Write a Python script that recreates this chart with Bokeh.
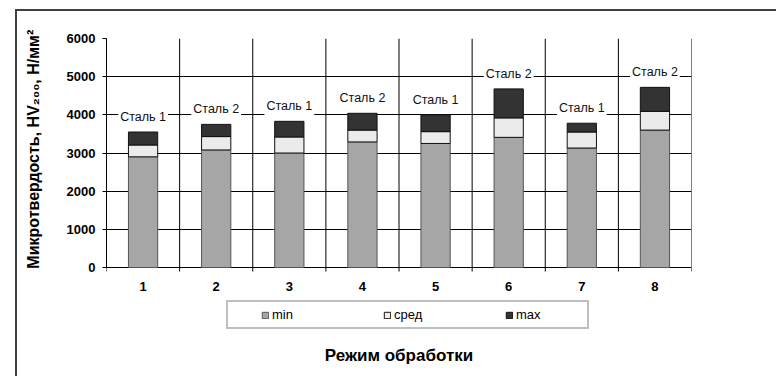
from bokeh.plotting import figure
from bokeh.models import (FixedTicker, Legend, LegendItem, ColumnDataSource, Range1d,
                          InlineStyleSheet, LinearAxis)
from bokeh.core.properties import value
from bokeh.embed import file_html
from bokeh.resources import INLINE

# ---- data ----
categories = ["1", "2", "3", "4", "5", "6", "7", "8"]
steel = ["Сталь 1", "Сталь 2", "Сталь 1", "Сталь 2", "Сталь 1", "Сталь 2", "Сталь 1", "Сталь 2"]
min_vals = [2900, 3080, 3000, 3290, 3250, 3410, 3130, 3600]
sred_vals = [3210, 3430, 3420, 3600, 3560, 3920, 3550, 4090]
max_vals = [3550, 3750, 3830, 4040, 4000, 4680, 3780, 4720]
y_ticks = [0, 1000, 2000, 3000, 4000, 5000, 6000]
y_title = "Микротвердость, HV₂₀₀, Н/мм²"
x_title = "Режим обработки"

FONT = "Liberation Sans"

# ---- layout (pixels) ----
W, H = 776, 376
FRAME_L, FRAME_R, FRAME_T, FRAME_B = 106, 691, 38, 335
ZERO_PX = 267            # pixel row of value 0
Y_MAX = y_ticks[-1]
px_per_unit = (ZERO_PX - FRAME_T) / Y_MAX
y_low = -(FRAME_B - ZERO_PX) / px_per_unit   # frame extends below 0 to hold the legend
tick_len = 4 / px_per_unit

xs = list(range(1, len(categories) + 1))
bounds = [i + 0.5 for i in range(0, len(categories) + 1)]
src = ColumnDataSource(dict(
    x=xs,
    seg_min=min_vals,
    seg_sred=[s - m for s, m in zip(sred_vals, min_vals)],
    seg_max=[mx - s for mx, s in zip(max_vals, sred_vals)],
    top=max_vals,
    steel=steel,
    zero=[0] * len(xs),
    cat=categories,
))

p = figure(width=W, height=H, output_backend="svg", toolbar_location=None,
           x_axis_type=None,
           x_range=Range1d(0.5, len(categories) + 0.5), y_range=Range1d(y_low, Y_MAX),
           min_border_left=FRAME_L, min_border_right=W - FRAME_R, min_border_top=FRAME_T,
           min_border_bottom=H - FRAME_B)
p.outline_line_color = None
p.background_fill_color = "white"
p.border_fill_color = "white"

# horizontal grid (line at 0 is the category axis line)
p.ygrid.ticker = FixedTicker(ticks=y_ticks)
p.ygrid.grid_line_color = "black"
p.ygrid.grid_line_width = 1

# vertical grid lines at the category boundaries, with tick marks below 0
p.segment(x0=bounds, y0=[-tick_len] * len(bounds), x1=bounds, y1=[Y_MAX] * len(bounds),
          line_color="black", line_width=1)

renderers = p.vbar_stack(["seg_min", "seg_sred", "seg_max"], x="x", width=0.4, source=src,
                         fill_color=["#a6a6a6", "#ebebeb", "#333333"],
                         line_color=["#555555", "#111111", "#111111"], line_width=1)

# steel labels above bars
p.text(x="x", y="top", text="steel", source=src, y_offset=-6,
       text_align="center", text_baseline="bottom",
       text_font=value(FONT), text_font_size="12.5px", text_color="#111111",
       background_fill_color="white", padding=2)

# category labels under the axis
p.text(x="x", y="zero", text="cat", source=src, y_offset=14,
       text_align="center", text_baseline="top",
       text_font=value(FONT), text_font_size="13px", text_font_style="bold",
       text_color="black")

# y axis (label padded with no-break spaces so it sits centred on the 0..6000 span)
yax = p.yaxis[0]
yax.ticker = FixedTicker(ticks=y_ticks)
yax.bounds = (0, Y_MAX)
yax.axis_label = "\u00a0" * 17 + y_title
yax.axis_line_color = "black"
yax.major_label_text_font = FONT
yax.major_label_text_font_style = "bold"
yax.major_label_text_font_size = "13px"
yax.major_label_text_color = "black"
yax.axis_label_text_font = FONT
yax.axis_label_text_font_style = "bold"
yax.axis_label_text_font_size = "16px"
yax.axis_label_text_color = "black"
yax.major_tick_out = 4
yax.major_tick_in = 0
yax.major_tick_line_color = "black"
yax.minor_tick_line_color = None
yax.major_label_standoff = 7
yax.axis_label_standoff = 22

# x title as a label-only axis below the frame
title_axis = LinearAxis(ticker=FixedTicker(ticks=[]), axis_label=x_title,
                        axis_line_color=None, major_tick_line_color=None,
                        minor_tick_line_color=None, major_tick_out=0, major_tick_in=0,
                        major_label_standoff=0, axis_label_standoff=10,
                        axis_label_text_font=FONT, axis_label_text_font_style="bold",
                        axis_label_text_font_size="17px", axis_label_text_color="black")
p.add_layout(title_axis, "below")

legend = Legend(items=[LegendItem(label="min", renderers=[renderers[0]]),
                       LegendItem(label="сред", renderers=[renderers[1]]),
                       LegendItem(label="max", renderers=[renderers[2]])],
                orientation="horizontal", location=(226 - FRAME_L, FRAME_B - 329),
                glyph_width=8, glyph_height=8, label_standoff=3,
                label_width=66, spacing=45, padding=5, margin=0,
                title=" ", title_location="left", title_standoff=13,
                title_text_font_size="13px",
                label_text_font=FONT, label_text_font_size="13px",
                label_text_color="black",
                border_line_color="#7f7f7f", border_line_width=2,
                background_fill_color="white")
p.add_layout(legend)

p.stylesheets = [InlineStyleSheet(css="""
:host::after {
  content: "";
  position: absolute;
  left: 15px;
  top: 9px;
  width: 761px;
  height: 367px;
  border-left: 2px solid #404040;
  border-top: 2px solid #404040;
  box-sizing: border-box;
  pointer-events: none;
}
""")]

open("out.html", "w").write(file_html(p, INLINE))
